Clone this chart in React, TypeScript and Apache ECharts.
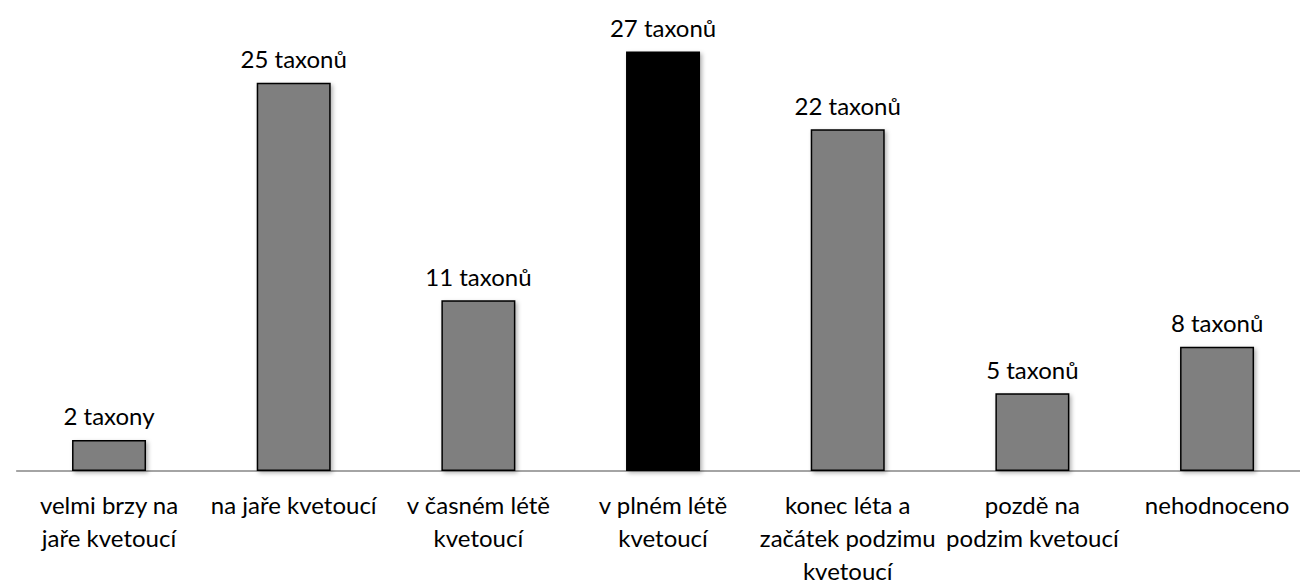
import React, { useEffect, useRef } from "react";
import * as echarts from "echarts";

const categories = [
  "velmi brzy na\njaře kvetoucí",
  "na jaře kvetoucí",
  "v časném létě\nkvetoucí",
  "v plném létě\nkvetoucí",
  "konec léta a\nzačátek podzimu\nkvetoucí",
  "pozdě na\npodzim kvetoucí",
  "nehodnoceno",
];
const values = [2, 25, 11, 27, 22, 5, 8];
const valueLabels = [
  "2 taxony",
  "25 taxonů",
  "11 taxonů",
  "27 taxonů",
  "22 taxonů",
  "5 taxonů",
  "8 taxonů",
];
const highlightIndex = 3;

const FONT = "Lato";

export default function App() {
  const ref = useRef<HTMLDivElement>(null);
  useEffect(() => {
    if (!ref.current) return;
    const chart = echarts.init(ref.current, undefined, { renderer: "svg" });
    chart.setOption({
      animation: false,
      backgroundColor: "#ffffff",
      grid: { left: 16.7, width: 1292.7, top: 5, height: 471, containLabel: false },
      xAxis: {
        type: "category",
        data: categories,
        axisLine: { show: true, lineStyle: { color: "#868686", width: 1.5 } },
        axisTick: { show: false },
        axisLabel: {
          interval: 0,
          color: "#000",
          fontFamily: FONT,
          fontSize: 24,
          lineHeight: 33,
          margin: 17,
        },
      },
      yAxis: {
        type: "value",
        min: 0,
        max: 30,
        show: false,
        splitLine: { show: false },
      },
      series: [
        {
          type: "bar",
          barWidth: 74,
          data: values.map((v, i) => ({
            value: v,
            itemStyle: { color: i === highlightIndex ? "#000000" : "#7f7f7f" },
            label: { formatter: valueLabels[i] },
          })),
          itemStyle: {
            borderColor: "#000",
            borderWidth: 1.5,
            shadowColor: "rgba(0,0,0,0.3)",
            shadowBlur: 4,
            shadowOffsetX: 2,
            shadowOffsetY: 2,
          },
          label: {
            show: true,
            position: "top",
            distance: 12,
            color: "#000",
            fontFamily: FONT,
            fontSize: 24,
          },
        },
      ],
    });
    return () => chart.dispose();
  }, []);
  return (
    <div style={{ position: "fixed", left: 0, top: 0, width: 1300, height: 587, overflow: "hidden", background: "#fff" }}>
      <div ref={ref} style={{ width: 1310, height: 587 }} />
    </div>
  );
}
